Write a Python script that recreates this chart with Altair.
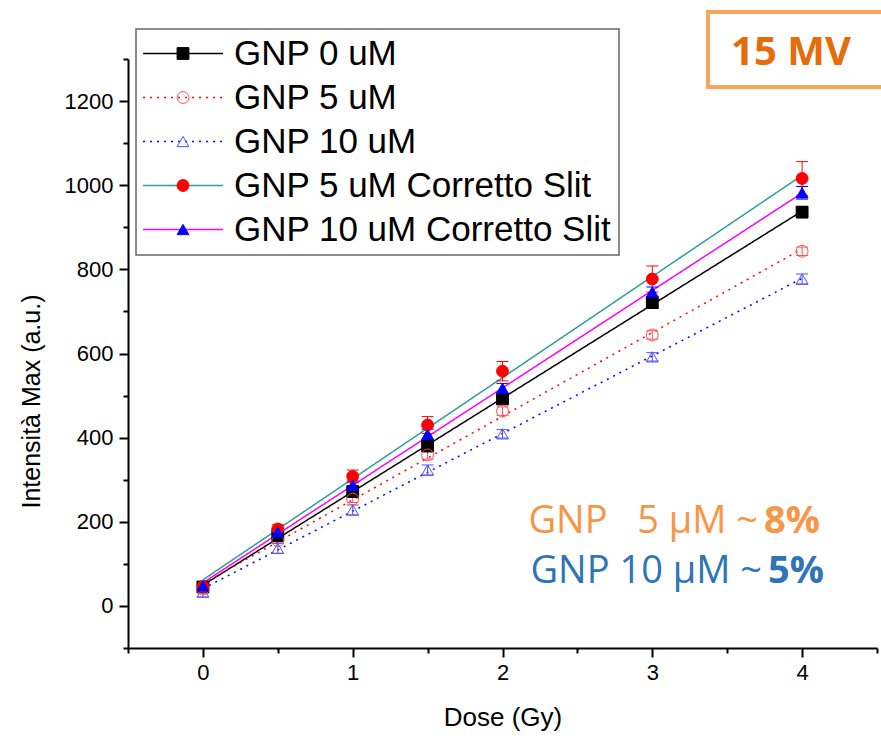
import altair as alt
import pandas as pd

# ---------------- data ----------------
DOSE = [0, 0.5, 1, 1.5, 2, 3, 4]
SERIES = ["GNP 0 uM", "GNP 5 uM", "GNP 10 uM", "GNP 5 uM Corretto Slit", "GNP 10 uM Corretto Slit"]
GNP0 = [45, 167, 272, 380, 492, 721, 936]
GNP5 = [40, 155, 254, 359, 463, 644, 843]
GNP10 = [33, 137, 228, 323, 409, 592, 777]
GNP5C = [46, 183, 308, 430, 558, 777, 1016]
GNP10C = [48, 176, 287, 408, 517, 746, 982]
ERR0 = [4, 5, 6, 8, 8, 10, 12]
ERR5 = [5, 6, 8, 10, 10, 10, 10]
ERR10 = [12, 12, 12, 12, 10, 10, 12]
ERR5C = [8, 10, 15, 20, 23, 31, 40]
ERR10C = [8, 8, 10, 12, 12, 12, 15]

X_TICKS = [-0.5, 0, 0.5, 1, 1.5, 2, 2.5, 3, 3.5, 4, 4.5]
Y_TICKS = list(range(-100, 1301, 100))

BOX_TEXT = "15 MV"
NOTE1_A = "GNP\u00a0\u00a0 5 \u03bcM ~"
NOTE1_B = "8%"
NOTE2_A = "GNP 10 \u03bcM ~"
NOTE2_B = "5%"

# marker keys (kept apart from line keys so the two overlaid legends stay separate)
MARKER_KEYS = ["m " + s for s in SERIES]

# ---------------- styles ----------------
LINE_COLORS = ["#000000", "#ff0000", "#0000ff", "#2e9c9c", "#ff00ff"]
DASHES = [[1, 0], [2, 5], [2, 5], [1, 0], [1, 0]]
SHAPES = ["square", "circle", "triangle-up", "circle", "triangle-up"]
FILLS = ["#000000", "transparent", "transparent", "#ff0000", "#0000ff"]
STROKES = ["#000000", "#ff5050", "#5050ff", "#ff0000", "#0000ff"]
ORANGE = "#f79646"
BLUE = "#2e75b6"

rows = []
for name, key, vals, errs in zip(SERIES, MARKER_KEYS, [GNP0, GNP5, GNP10, GNP5C, GNP10C],
                                 [ERR0, ERR5, ERR10, ERR5C, ERR10C]):
    for d, v, e in zip(DOSE, vals, errs):
        rows.append({"series": name, "marker": key, "dose": d, "val": v,
                     "lo": v - e, "hi": v + e})
df = pd.DataFrame(rows)

FONT = "Liberation Sans"

X_SCALE = alt.Scale(domain=[-0.5, 4.5], nice=False, zero=False)
Y_SCALE = alt.Scale(domain=[-100, 1300], nice=False, zero=False)

X_AXIS = alt.Axis(
    title="Dose (Gy)", values=X_TICKS, grid=False,
    labelExpr="datum.value % 1 === 0 ? format(datum.value, 'd') : ''",
    domainColor="black", domainWidth=2, tickColor="black", tickWidth=2,
    tickSize={"condition": {"test": "datum.value % 1 !== 0", "value": 5}, "value": 9},
    labelFont=FONT, labelFontSize=22, labelColor="black", labelPadding=5,
    labelOverlap=False, labelFlush=False,
    titleFont=FONT, titleFontSize=26, titleFontWeight="normal", titleColor="black",
    titlePadding=21,
)
Y_AXIS = alt.Axis(
    title="Intensità Max (a.u.)", values=Y_TICKS, grid=False,
    labelExpr="datum.value % 200 === 0 ? format(datum.value, 'd') : ''",
    domainColor="black", domainWidth=2, tickColor="black", tickWidth=2,
    tickSize={"condition": {"test": "datum.value % 200 !== 0", "value": 5}, "value": 9},
    labelFont=FONT, labelFontSize=22, labelColor="black", labelPadding=6,
    labelOverlap=False, labelFlush=False,
    titleFont=FONT, titleFontSize=25, titleFontWeight="normal", titleColor="black",
    titlePadding=20, titleY=342,
)


def xenc():
    return alt.X("dose:Q", scale=X_SCALE, axis=X_AXIS)


def yenc(field):
    return alt.Y(f"{field}:Q", scale=Y_SCALE, axis=Y_AXIS)


LEG_COMMON = dict(title=None, orient="none", legendX=8, legendY=-30, padding=7,
                  labelFont=FONT, labelFontSize=35, labelColor="black",
                  symbolOffset=22.5, labelOffset=33.5, rowPadding=8, labelLimit=1000)
LINE_LEGEND = alt.Legend(strokeColor="#666666", symbolType="M-4,0H4", symbolSize=400,
                         symbolStrokeWidth=1.5, **LEG_COMMON)
# marker legend: symbols only, drawn on top of the line legend
POINT_LEGEND = alt.Legend(labelExpr="''", symbolSize=140, symbolStrokeWidth=1, **LEG_COMMON)

base = alt.Chart(df)

lines = base.transform_regression(
    "dose", "val", groupby=["series"], extent=[0, 4]
).mark_line(strokeWidth=1.5).encode(
    x=xenc(), y=yenc("val"),
    color=alt.Color("series:N", scale=alt.Scale(domain=SERIES, range=LINE_COLORS), legend=LINE_LEGEND),
    strokeDash=alt.StrokeDash("series:N", scale=alt.Scale(domain=SERIES, range=DASHES), legend=LINE_LEGEND),
)


def stroke_enc():
    return alt.Stroke("marker:N", scale=alt.Scale(domain=MARKER_KEYS, range=STROKES), legend=POINT_LEGEND)


rules = base.mark_rule(strokeWidth=1).encode(
    x=xenc(), y=yenc("lo"), y2="hi:Q", stroke=stroke_enc(),
)
caps = base.transform_fold(["lo", "hi"], as_=["end", "ybar"]).mark_point(
    shape="stroke", size=144, strokeWidth=1, opacity=1
).encode(
    x=xenc(), y=yenc("ybar"), stroke=stroke_enc(),
)
points = base.mark_point(filled=True, size=140, strokeWidth=1, opacity=1).encode(
    x=xenc(), y=yenc("val"),
    fill=alt.Fill("marker:N", scale=alt.Scale(domain=MARKER_KEYS, range=FILLS), legend=POINT_LEGEND),
    stroke=stroke_enc(),
    shape=alt.Shape("marker:N", scale=alt.Scale(domain=MARKER_KEYS, range=SHAPES), legend=POINT_LEGEND),
)

one = alt.Data(values=[{"k": 1}])
box = alt.Chart(one).mark_rect(filled=False, stroke="#f9a65a", strokeWidth=4).encode(
    x=alt.value(580), x2=alt.value(780), y=alt.value(-47), y2=alt.value(28)
)
box_text = alt.Chart(one).mark_text(
    text=BOX_TEXT, font="Open Sans", fontSize=40, fontWeight="bold", color="#e46c0a",
    align="center", baseline="middle"
).encode(x=alt.value(663), y=alt.value(-6))

note_kw = dict(font="Open Sans", fontSize=38, baseline="alphabetic")
n1a = alt.Chart(one).mark_text(text=NOTE1_A, color=ORANGE, align="right", **note_kw).encode(
    x=alt.value(630), y=alt.value(474))
n1b = alt.Chart(one).mark_text(text=NOTE1_B, color=ORANGE, align="left", fontWeight="bold", **note_kw).encode(
    x=alt.value(636), y=alt.value(474))
n2a = alt.Chart(one).mark_text(text=NOTE2_A, color=BLUE, align="right", **note_kw).encode(
    x=alt.value(634), y=alt.value(524))
n2b = alt.Chart(one).mark_text(text=NOTE2_B, color=BLUE, align="left", fontWeight="bold", **note_kw).encode(
    x=alt.value(640), y=alt.value(524))

chart = alt.layer(lines, rules, caps, points, box, box_text, n1a, n1b, n2a, n2b).properties(
    width=749, height=589,
    padding={"left": 128, "top": 59, "right": 4, "bottom": 88},
    autosize=alt.AutoSizeParams(type="none"),
    background="white",
).configure_view(stroke="transparent").configure_legend(strokeWidth=1.5)

chart.save("out.html", embed_options={"renderer": "svg", "actions": False})
